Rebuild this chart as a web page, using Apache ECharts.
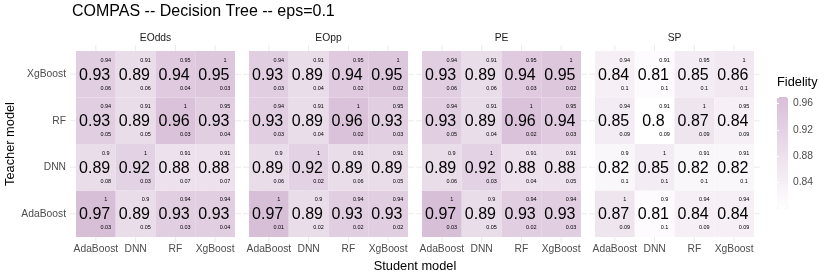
<!DOCTYPE html>
<html><head><meta charset="utf-8">
<script src="https://cdn.jsdelivr.net/npm/echarts@6/dist/echarts.min.js"></script>
<style>html,body{margin:0;padding:0;background:#fff}#c{width:830px;height:277px}</style>
</head><body><div id="c"></div>
<script>
// ---------- data ----------
const metrics = ['EOdds', 'EOpp', 'PE', 'SP'];
const students = ['AdaBoost', 'DNN', 'RF', 'XgBoost'];          // x axis (left -> right)
const teachers = ['AdaBoost', 'DNN', 'RF', 'XgBoost'];          // y axis (bottom -> top)
const fidelityTicks = [0.84, 0.88, 0.92, 0.96];
const fidelityMin = 0.80, fidelityMax = 0.97;

// rows follow `teachers`, columns follow `students`
const upperVals = [
  [1, 0.9, 0.94, 0.94],
  [0.9, 1, 0.91, 0.91],
  [0.94, 0.91, 1, 0.95],
  [0.94, 0.91, 0.95, 1]
];
const fidEOdds = [
  [0.97, 0.89, 0.93, 0.93],
  [0.89, 0.92, 0.88, 0.88],
  [0.93, 0.89, 0.96, 0.93],
  [0.93, 0.89, 0.94, 0.95]
];
const lowEOdds = [
  [0.03, 0.05, 0.03, 0.04],
  [0.08, 0.03, 0.07, 0.07],
  [0.05, 0.05, 0.03, 0.04],
  [0.06, 0.06, 0.04, 0.03]
];
const fidEOpp = [
  [0.97, 0.89, 0.93, 0.93],
  [0.89, 0.92, 0.89, 0.89],
  [0.93, 0.89, 0.96, 0.93],
  [0.93, 0.89, 0.94, 0.95]
];
const lowEOpp = [
  [0.01, 0.02, 0.02, 0.02],
  [0.06, 0.02, 0.06, 0.05],
  [0.03, 0.04, 0.02, 0.03],
  [0.03, 0.04, 0.02, 0.02]
];
const fidPE = [
  [0.97, 0.89, 0.93, 0.93],
  [0.89, 0.92, 0.88, 0.88],
  [0.93, 0.89, 0.96, 0.94],
  [0.93, 0.89, 0.94, 0.95]
];
const lowPE = [
  [0.03, 0.05, 0.02, 0.03],
  [0.06, 0.03, 0.04, 0.05],
  [0.05, 0.04, 0.02, 0.03],
  [0.06, 0.06, 0.03, 0.02]
];
const fidSP = [
  [0.87, 0.81, 0.84, 0.84],
  [0.82, 0.85, 0.82, 0.82],
  [0.85, 0.8, 0.87, 0.84],
  [0.84, 0.81, 0.85, 0.86]
];
const lowSP = [
  [0.09, 0.1, 0.09, 0.09],
  [0.1, 0.1, 0.1, 0.1],
  [0.09, 0.09, 0.09, 0.09],
  [0.1, 0.1, 0.1, 0.1]
];
const fidByMetric = [fidEOdds, fidEOpp, fidPE, fidSP];
const lowByMetric = [lowEOdds, lowEOpp, lowPE, lowSP];

// ---------- layout / style ----------
const FONT = '"Liberation Sans", Arial, sans-serif';
const P_LEFT = 76, P_W = 159, P_GAP = 14, P_TOP = 51, P_H = 186;
const EXT = 6; // grid line extension beyond tiles
const LOW = '#ffffff', HIGH = '#d8bfd8';

const chart = echarts.init(document.getElementById('c'), null, {renderer: 'canvas'});

const grids = [], xAxes = [], yAxes = [], series = [];
const tileSeriesIdx = [];

function gridRender(params, api) {
  const cs = params.coordSys;
  const i = api.value(0);
  const cx = api.coord([i, 0])[0];
  const cy = api.coord([0, i])[1];
  const st = {stroke: '#ebebeb', lineWidth: 1};
  return {type: 'group', children: [
    {type: 'line', shape: {x1: cx, y1: cs.y - EXT, x2: cx, y2: cs.y + cs.height + EXT}, style: st},
    {type: 'line', shape: {x1: cs.x - EXT, y1: cy, x2: cs.x + cs.width + EXT, y2: cy}, style: st}
  ]};
}
function tileRender(params, api) {
  const c = api.coord([api.value(0), api.value(1)]);
  const s = api.size([1, 1]);
  return {type: 'group', children: [
    {type: 'rect', shape: {x: c[0] - s[0] / 2, y: c[1] - s[1] / 2, width: s[0], height: s[1]},
     style: {fill: api.visual('color')}},
    {type: 'text', x: c[0] - 0.03 * s[0], y: c[1] + 1,
     style: {text: String(api.value(2)), font: '16px ' + FONT, fill: '#000', align: 'center', verticalAlign: 'middle'}},
    {type: 'text', x: c[0] + 0.25 * s[0], y: c[1] - 0.3 * s[1],
     style: {text: String(api.value(3)), font: '5.5px ' + FONT, fill: '#000', align: 'center', verticalAlign: 'middle'}},
    {type: 'text', x: c[0] + 0.25 * s[0], y: c[1] + 0.3 * s[1],
     style: {text: String(api.value(4)), font: '5.5px ' + FONT, fill: '#000', align: 'center', verticalAlign: 'middle'}}
  ]};
}

metrics.forEach((m, f) => {
  grids.push({left: P_LEFT + f * (P_W + P_GAP), top: P_TOP, width: P_W, height: P_H, containLabel: false});
  const xb = xAxes.length;
  xAxes.push({
    type: 'category', gridIndex: f, data: students, position: 'bottom',
    axisLine: {show: false}, axisTick: {show: false}, splitLine: {show: false},
    axisLabel: {interval: 0, color: '#4d4d4d', fontFamily: FONT, fontSize: 10.3, margin: 7}
  });
  xAxes.push({
    type: 'category', gridIndex: f, data: students, position: 'top',
    axisLine: {show: false}, axisTick: {show: false}, axisLabel: {show: false}, splitLine: {show: false},
    name: m, nameLocation: 'middle', nameGap: 8,
    nameTextStyle: {color: '#1a1a1a', fontFamily: FONT, fontSize: 10.3}
  });
  yAxes.push({
    type: 'category', gridIndex: f, data: teachers,
    axisLine: {show: false}, axisTick: {show: false}, splitLine: {show: false},
    axisLabel: {show: f === 0, interval: 0, color: '#4d4d4d', fontFamily: FONT, fontSize: 10.3, margin: 10},
    name: f === 0 ? 'Teacher model' : '', nameLocation: 'middle', nameRotate: 90, nameGap: 57,
    nameTextStyle: {color: '#000', fontFamily: FONT, fontSize: 12.8}
  });
  const yi = yAxes.length - 1;
  // background grid lines
  series.push({
    type: 'custom', xAxisIndex: xb, yAxisIndex: yi, clip: false, z: 0, silent: true,
    encode: {x: 0, y: 1},
    data: students.map((_, i) => [i, i]),
    renderItem: gridRender
  });
  // tiles
  const data = [];
  teachers.forEach((t, r) => {
    students.forEach((s, c) => {
      data.push([c, r, fidByMetric[f][r][c], upperVals[r][c], lowByMetric[f][r][c]]);
    });
  });
  tileSeriesIdx.push(series.length);
  series.push({
    type: 'custom', xAxisIndex: xb, yAxisIndex: yi, z: 2, silent: true,
    encode: {x: 0, y: 1},
    data: data,
    renderItem: tileRender
  });
});

// colorbar label axis
const CB_LEFT = 777, CB_TOP = 97, CB_W = 11, CB_H = 112;
const cbGrid = grids.length;
grids.push({left: CB_LEFT, top: CB_TOP, width: CB_W, height: CB_H});
xAxes.push({type: 'value', gridIndex: cbGrid, show: false, min: 0, max: 1});
yAxes.push({
  type: 'value', gridIndex: cbGrid, position: 'right', min: fidelityMin, max: fidelityMax, interval: 0.04,
  z: 10,
  axisLine: {show: false}, splitLine: {show: false},
  axisTick: {show: true, inside: true, length: 2, lineStyle: {color: '#ffffff', width: 1}},
  axisLabel: {
    color: '#4d4d4d', fontFamily: FONT, fontSize: 10.3, margin: 5,
    showMinLabel: true, showMaxLabel: false,
    formatter: v => fidelityTicks.some(t => Math.abs(t - v) < 1e-6) ? v.toFixed(2) : ''
  }
});
yAxes.push({
  type: 'value', gridIndex: cbGrid, position: 'left', min: fidelityMin, max: fidelityMax, interval: 0.04,
  z: 10,
  axisLine: {show: false}, splitLine: {show: false}, axisLabel: {show: false},
  axisTick: {show: true, inside: true, length: 2, lineStyle: {color: '#ffffff', width: 1}}
});

const option = {
  backgroundColor: '#ffffff',
  animation: false,
  title: [
    {text: 'COMPAS -- Decision Tree -- eps=0.1', left: 72, top: 4, padding: 0,
     textStyle: {color: '#000', fontFamily: FONT, fontSize: 16, fontWeight: 'normal'}},
    {text: 'Student model', left: (P_LEFT + P_LEFT + 4 * P_W + 3 * P_GAP) / 2, top: 260, padding: 0, textAlign: 'center',
     textStyle: {color: '#000', fontFamily: FONT, fontSize: 12.8, fontWeight: 'normal'}},
    {text: 'Fidelity', left: 777, top: 76, padding: 0,
     textStyle: {color: '#000', fontFamily: FONT, fontSize: 12.8, fontWeight: 'normal'}}
  ],
  grid: grids,
  xAxis: xAxes,
  yAxis: yAxes,
  visualMap: {
    type: 'continuous', min: fidelityMin, max: fidelityMax, dimension: 2,
    seriesIndex: tileSeriesIdx,
    inRange: {color: [LOW, HIGH]},
    orient: 'vertical', left: CB_LEFT, top: CB_TOP, itemWidth: CB_W, itemHeight: CB_H,
    calculable: false, padding: 0, text: null, showLabel: false, hoverLink: false
  },
  series: series
};
chart.setOption(option);
</script>
</body></html>
